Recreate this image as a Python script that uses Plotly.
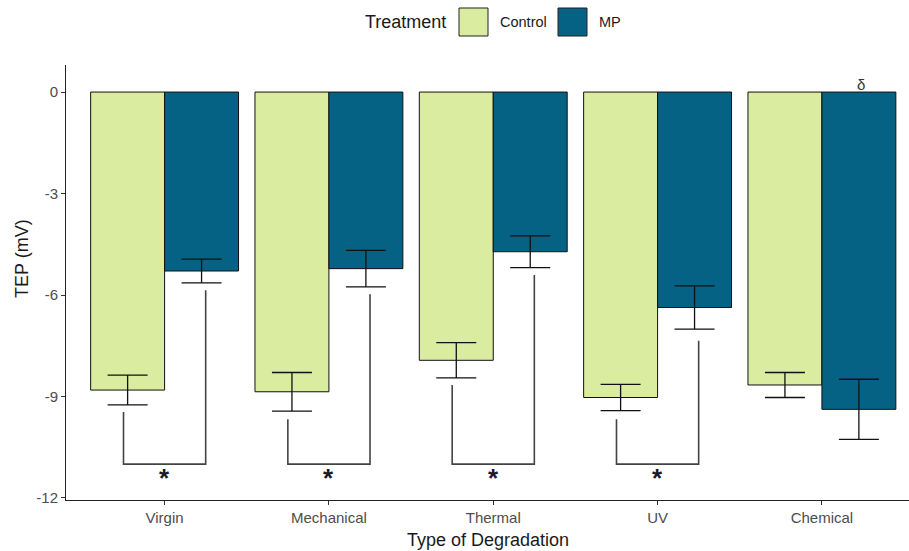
import plotly.graph_objects as go

# ---- data ----
categories = ["Virgin", "Mechanical", "Thermal", "UV", "Chemical"]
control_mean = [-8.81, -8.86, -7.93, -9.03, -8.66]
control_se = [0.44, 0.57, 0.52, 0.39, 0.37]
mp_mean = [-5.29, -5.22, -4.72, -6.37, -9.38]
mp_se = [0.35, 0.54, 0.47, 0.64, 0.89]

# significance brackets (Control vs MP) for first four categories
sig_categories = ["Virgin", "Mechanical", "Thermal", "UV"]
bracket_left_top = [-9.46, -9.67, -8.66, -9.67]
bracket_right_top = [-5.86, -5.98, -5.41, -7.35]
bracket_bottom = -11.0
star_y = -11.32
delta_category = "Chemical"
delta_y = 0.21

y_ticks = [0, -3, -6, -9, -12]

W, H = 909, 551
ML, MR, MT, MB = 66, 0, 65, 51
PW, PH = W - ML - MR, H - MT - MB
FONT = "Liberation Sans, Arial, sans-serif"
CONTROL_COLOR = "#d9eca0"
MP_COLOR = "#066284"

def px_x(px):
    return (px - ML) / PW

def px_y(py):
    return (H - MB - py) / PH

xpos = list(range(len(categories)))

fig = go.Figure()
fig.add_trace(go.Bar(
    x=xpos, y=control_mean, name="Control",
    marker=dict(color=CONTROL_COLOR, line=dict(color="#111111", width=1)),
    error_y=dict(type="data", array=control_se, color="#111111", thickness=1.3, width=20),
    showlegend=False,
))
fig.add_trace(go.Bar(
    x=xpos, y=mp_mean, name="MP",
    marker=dict(color=MP_COLOR, line=dict(color="#111111", width=1)),
    error_y=dict(type="data", array=mp_se, color="#111111", thickness=1.3, width=20),
    showlegend=False,
))

# brackets
for cat, lt, rt in zip(sig_categories, bracket_left_top, bracket_right_top):
    i = categories.index(cat)
    fig.add_trace(go.Scatter(
        x=[i - 0.25, i - 0.25, i + 0.25, i + 0.25],
        y=[lt, bracket_bottom, bracket_bottom, rt],
        mode="lines", line=dict(color="#444444", width=1.6),
        showlegend=False, hoverinfo="skip",
    ))
    fig.add_annotation(x=i, y=star_y, text="<b>*</b>", showarrow=False,
                       xref="x", yref="y", yanchor="middle", yshift=-3,
                       font=dict(family=FONT, size=26, color="#1a1a2a"))

di = categories.index(delta_category)
fig.add_annotation(x=di + 0.24, y=delta_y, text="δ", showarrow=False,
                   xref="x", yref="y", yanchor="middle",
                   font=dict(family=FONT, size=15, color="#333333"))

# custom legend
legend_y = 22
fig.add_annotation(x=px_x(363), y=px_y(legend_y), xref="paper", yref="paper",
                   text="Treatment", showarrow=False, xanchor="left", yanchor="middle",
                   font=dict(family=FONT, size=18, color="#1a1a1a"))
for x0, color, label, lx in [(459, CONTROL_COLOR, "Control", 498), (558, MP_COLOR, "MP", 597)]:
    fig.add_shape(type="rect", xref="paper", yref="paper",
                  x0=px_x(x0), x1=px_x(x0 + 29), y0=px_y(8), y1=px_y(36),
                  fillcolor=color, line=dict(color="#222222", width=1))
    fig.add_annotation(x=px_x(lx), y=px_y(legend_y), xref="paper", yref="paper",
                       text=label, showarrow=False, xanchor="left", yanchor="middle",
                       font=dict(family=FONT, size=14.5, color="#1a1a1a"))

# axis titles as annotations (precise placement)
fig.add_annotation(x=0.5, y=px_y(540), xref="paper", yref="paper",
                   text="Type of Degradation", showarrow=False,
                   xanchor="center", yanchor="middle",
                   font=dict(family=FONT, size=18, color="#1a1a1a"))
fig.add_annotation(x=px_x(22), y=px_y(259), xref="paper", yref="paper",
                   text="TEP (mV)", showarrow=False, textangle=-90,
                   xanchor="center", yanchor="middle",
                   font=dict(family=FONT, size=18, color="#1a1a1a"))

fig.update_layout(
    width=W, height=H,
    margin=dict(l=ML, r=MR, t=MT, b=MB, pad=0, autoexpand=False),
    paper_bgcolor="white", plot_bgcolor="white",
    barmode="group", bargap=0.1, bargroupgap=0,
    font=dict(family=FONT),
    xaxis=dict(
        range=[-0.6, 4.53], tickvals=xpos, ticktext=categories, automargin=False,
        showgrid=False, zeroline=False, showline=True, linecolor="#222222", linewidth=1,
        ticks="outside", ticklen=4, tickcolor="#333333", tickwidth=1,
        tickfont=dict(family=FONT, size=15, color="#4d4d4d"),
    ),
    yaxis=dict(
        range=[-12.06, 0.8], tickvals=y_ticks, ticktext=[str(v) for v in y_ticks],
        automargin=False,
        showgrid=False, zeroline=False, showline=True, linecolor="#222222", linewidth=1,
        ticks="outside", ticklen=4, tickcolor="#333333", tickwidth=1,
        tickfont=dict(family=FONT, size=15, color="#4d4d4d"),
    ),
)

fig.write_html("out.html", config={"displayModeBar": False},
               post_script="document.body.style.margin='0px';document.body.style.overflow='hidden';")
